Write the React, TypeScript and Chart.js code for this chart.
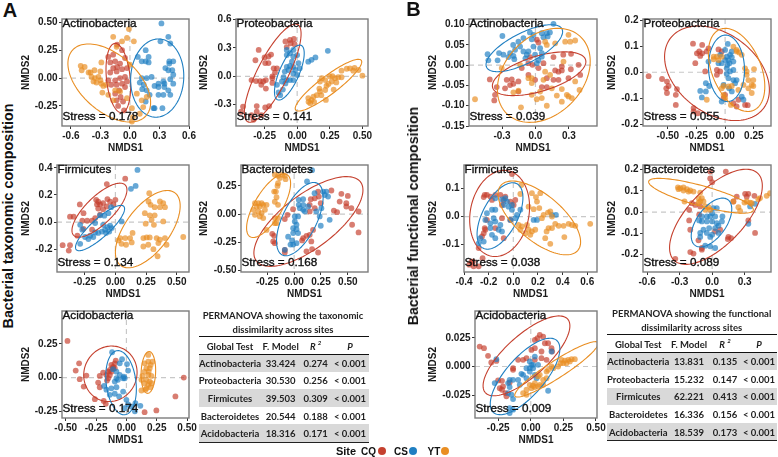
import React, { useEffect, useRef } from "react";
import { Chart, registerables } from "chart.js";

Chart.register(...registerables);

type P = number[];

const taxRows = [
  ["Actinobacteria", "33.424", "0.274", "< 0.001"],
  ["Proteobacteria", "30.530", "0.256", "< 0.001"],
  ["Firmicutes", "39.503", "0.309", "< 0.001"],
  ["Bacteroidetes", "20.544", "0.188", "< 0.001"],
  ["Acidobacteria", "18.316", "0.171", "< 0.001"],
];
const funRows = [
  ["Actinobacteria", "13.831", "0.135", "< 0.001"],
  ["Proteobacteria", "15.232", "0.147", "< 0.001"],
  ["Firmicutes", "62.221", "0.413", "< 0.001"],
  ["Bacteroidetes", "16.336", "0.156", "< 0.001"],
  ["Acidobacteria", "18.539", "0.173", "< 0.001"],
];

const a1CS: P[] = [[.32,.49],[.39,.37],[.31,.33],[.41,.31],[.16,.25],[.19,.19],[.08,.19],[.12,.15],[.16,.15],[.19,.14],[.4,.15],[.44,.15],[.4,.13],[.36,.09],[.39,.07],[.43,.07],[.44,.03],[.41,-.01],[.44,-.05],[.34,-.03],[.35,-.05],[.29,-.05],[.25,-.07],[.29,-.08],[.35,-.08],[.39,-.11],[.41,-.15],[.34,-.15],[.29,-.15],[.24,-.27],[.33,-.27],[.25,-.27],[.17,0],[.22,.01],[.12,0],[.1,-.04],[.14,-.06],[.125,-.1],[.17,-.11],[.2,-.15],[.16,-.21]];
const a1CQ: P[] = [[-.13,.3],[-.08,.25],[-.17,.21],[-.22,.19],[-.15,.15],[-.2,.14],[-.1,.13],[-.05,.18],[-.13,.1],[-.17,.09],[-.08,.08],[-.03,.09],[-.135,.06],[-.2,.05],[-.05,.01],[-.1,0],[-.15,-.02],[-.08,-.05],[-.03,-.03],[-.135,-.06],[-.19,-.06],[-.05,-.08],[-.11,-.11],[-.15,-.14],[-.095,-.17],[-.135,-.2],[-.07,-.21],[-.12,-.25],[-.06,-.29],[-.22,-.02]];
const a1YT: P[] = [[-.01,.44],[.04,.33],[-.17,.37],[-.03,.36],[-.08,.33],[-.135,.28],[-.5,.11],[-.46,.1],[-.49,.07],[-.42,.05],[-.4,.05],[-.36,.07],[-.3,.06],[-.29,.14],[-.39,.01],[-.355,0],[-.32,.01],[-.3,-.02],[-.34,-.04],[-.29,-.05],[-.37,-.03],[-.27,-.07],[-.24,-.06],[-.28,-.13],[-.22,-.15],[-.15,-.11],[-.17,-.2],[.02,-.39],[.02,-.27],[.03,-.35],[.12,-.2],[.17,-.17],[.135,-.26],[.1,-.32],[-.03,-.18],[-.1,-.12],[.07,-.14],[0,.12]];

const a2CQ: P[] = [[-.295,.28],[-.32,.17],[-.25,.2],[-.22,.21],[-.2,.23],[-.245,.14],[-.22,.14],[-.18,.085],[-.155,.085],[-.17,.04],[-.19,0],[-.19,-.07],[-.24,-.04],[-.26,-.055],[-.285,-.05],[-.35,-.04],[-.315,-.05],[-.275,-.09],[-.24,-.13],[-.09,.37],[-.055,.385],[-.025,.395],[-.05,.35],[-.02,.34],[-.08,.31],[-.415,-.32],[-.43,-.375],[-.31,-.315],[-.245,-.33],[-.215,-.315],[-.35,-.41],[-.31,-.375],[-.275,-.41],[-.335,-.46],[-.19,-.02]];
const a2CS: P[] = [[.235,.27],[.14,.2],[.11,.175],[.085,.155],[-.08,.28],[-.03,.28],[-.055,.245],[-.08,.225],[-.03,.21],[0,.225],[.01,.14],[-.055,.11],[-.03,.1],[-.08,.1],[-.095,.05],[-.066,.067],[.02,.085],[-.03,.03],[0,.015],[-.105,-.01],[-.08,-.04],[-.055,-.04],[-.117,-.055],[-.03,-.04],[-.09,-.075],[-.11,-.14],[-.13,-.2],[-.143,-.17],[-.155,-.09],[-.015,.067],[-.04,.155]];
const a2YT: P[] = [[.38,.08],[.405,.085],[.44,.09],[.47,.067],[.5,.007],[.34,.06],[.19,-.02],[.175,-.055],[.215,-.04],[.25,0],[.27,.003],[.29,-.02],[.315,-.01],[.34,-.01],[.265,-.055],[.3,-.065],[.24,-.08],[.28,-.14],[.22,-.25],[.175,-.16],[.185,-.2],[.15,-.2],[.125,-.215],[.085,-.23],[.1,-.285],[.13,-.27],[.087,-.27],[.215,-.145],[.225,-.1],[.17,-.13],[.43,.06],[.11,-.25]];

const a3CQ: P[] = [[.08,.32],[-.07,.28],[-.29,.13],[-.37,.04],[-.34,.04],[-.43,-.17],[-.37,-.17],[-.38,-.21],[-.31,-.1],[-.27,.01],[-.23,.01],[-.19,.01],[-.157,.164],[-.14,.15],[-.15,.13],[-.125,.13],[-.1,.14],[-.065,.17],[-.043,.15],[0,.164],[-.016,.13],[-.07,.115],[-.1,.095],[-.14,.1],[-.125,.054],[-.165,.03],[-.19,-.056],[-.26,-.05],[-.26,.066]];
const a3CS: P[] = [[.18,.385],[.165,.267],[.127,.245],[.05,.005],[-.035,.11],[-.057,.066],[-.09,.047],[-.125,.05],[-.165,-.007],[-.287,-.02],[-.27,-.056],[-.247,-.11],[-.22,-.125],[-.287,-.16],[-.165,-.076],[-.14,-.08],[-.11,-.07],[-.084,-.056],[-.065,-.037],[-.043,-.027],[-.076,-.08],[-.05,-.07],[-.18,-.11],[-.205,-.1],[-.1,-.02],[-.03,-.044]];
const a3YT: P[] = [[.276,.213],[.27,.152],[.363,.152],[.39,.14],[.287,.127],[.32,.11],[.363,.11],[.404,.11],[.24,.066],[.28,.05],[.32,.05],[.295,.017],[.247,-.012],[.314,-.02],[.39,.005],[.14,-.08],[.04,-.118],[.08,-.118],[.12,-.118],[.024,-.135],[.05,-.16],[.087,-.167],[.133,-.15],[.228,-.118],[.255,-.113],[.28,-.113],[.336,-.118],[.363,-.13],[.404,-.118],[.553,-.11],[.228,-.18],[.268,-.167],[.31,-.2],[.344,-.252],[.417,-.167],[.35,-.155]];

const a4YT: P[] = [[-.18,.35],[-.15,.34],[-.11,.35],[-.087,.34],[-.133,.32],[-.08,.31],[-.15,.274],[-.155,.25],[-.186,.2],[-.17,.2],[-.164,.15],[-.18,.11],[-.15,.083],[-.365,.097],[-.334,.097],[-.303,.097],[-.35,.068],[-.32,.068],[-.288,.083],[-.38,.038],[-.257,.083],[-.334,.024],[-.303,.009],[-.272,.038],[-.365,-.006],[-.32,-.02],[-.288,-.035],[-.18,-.035],[-.164,-.08],[-.18,-.08],[-.257,-.14],[-.15,-.035]];
const a4CS: P[] = [[.167,.39],[.12,.29],[.19,.186],[.27,.2],[.3,.2],[.316,.156],[.285,.17],[.043,.127],[.084,.133],[.043,.083],[.084,.083],[.053,.053],[.084,.038],[.13,.068],[.1,.024],[.006,-.02],[.037,-.02],[.006,-.065],[.022,-.094],[-.009,-.124],[.022,-.133],[-.009,-.168],[.037,-.168],[-.056,-.2],[-.019,-.233],[-.009,-.27],[-.034,-.27],[.022,-.257],[.331,-.05],[.248,-.103],[.238,-.02],[-.087,-.316],[.254,.053],[.207,.024]];
const a4CQ: P[] = [[.347,.21],[.44,.18],[.5,.162],[.424,.112],[.486,.097],[.486,.068],[.533,.053],[.6,.024],[.37,.032],[.4,.018],[.54,-.094],[.6,-.162],[.223,.2],[.23,.156],[.155,.133],[.192,.14],[.248,.097],[.192,.053],[.145,.083],[.145,.024],[-.01,.044],[-.062,-.006],[-.087,-.044],[-.204,-.174],[-.186,-.192],[-.195,-.242],[-.18,-.257],[-.087,-.316],[-.087,-.34],[.084,-.212],[.115,-.192],[.145,-.183],[.074,-.233],[.16,-.242],[.115,-.33],[.167,-.31],[.223,-.34],[.176,-.14]];

const a5CQ: P[] = [[-.486,.272],[-.39,.106],[-.418,.052],[-.385,-.012],[-.33,.015],[-.352,-.067],[-.26,-.16],[-.187,-.173],[-.17,-.195],[-.233,-.037],[-.22,-.072],[-.22,.012],[-.192,.037],[-.15,.044],[-.165,.02],[-.137,.02],[-.15,-.005],[-.124,.044],[-.11,.08],[-.096,.106],[-.088,.126],[-.124,.094],[-.16,-.022],[-.11,.07],[.473,0],[.404,-.14],[.247,-.244],[.15,-.257],[-.137,.057],[-.096,.07]];
const a5CS: P[] = [[-.118,.188],[-.036,.136],[.005,.1],[.014,.052],[-.055,.106],[-.11,.062],[-.082,.044],[-.055,.02],[-.022,.007],[-.014,-.005],[-.082,-.005],[-.096,-.03],[-.082,-.072],[-.184,-.062],[-.165,-.09],[-.124,-.08],[-.096,-.12],[-.027,-.104],[-.06,-.14],[0,-.165],[-.014,-.227],[.04,-.215],[.07,-.25],[.115,-.21],[.074,-.19],[.014,-.2],[-.027,-.005],[-.07,-.017],[-.137,-.128]];
const a5YT: P[] = [[.18,.168],[.18,.118],[.15,.106],[.2,.094],[.165,.07],[.192,.07],[.15,.044],[.184,.044],[.132,.012],[.165,-.017],[.124,-.017],[.192,-.03],[.15,-.042],[.18,-.054],[.206,-.042],[.124,-.096],[.165,-.08],[.198,-.072],[.157,-.09],[.206,.012],[.18,.02],[.214,.118]];

const b1CS: P[] = [[.162,.102],[-.297,.072],[-.05,.081],[-.018,.075],[.057,.079],[.102,.079],[.13,.081],[.11,.071],[.072,.069],[-.033,.064],[-.108,.067],[-.153,.058],[-.2,.05],[-.138,.046],[-.183,.038],[-.108,.034],[-.063,.034],[-.018,.046],[.042,.042],[.057,.03],[-.003,.026],[-.078,.026],[-.228,.03],[-.327,.03],[-.288,.026],[-.243,.02],[-.198,.023],[-.43,.027],[-.423,.012],[-.34,.012],[-.19,.015],[.027,.012],[.057,.021],[.012,.005],[-.09,.017]];
const b1CQ: P[] = [[.012,.063],[.027,.056],[-.048,.02],[.162,.02],[.32,.028],[.25,.026],[-.063,.005],[-.027,.001],[-.123,-.007],[.027,-.007],[.072,.005],[.237,-.003],[.177,-.013],[.207,-.016],[.237,-.013],[.318,-.01],[.387,.001],[.102,-.032],[.207,-.036],[.162,-.036],[.297,-.032],[.402,-.024],[-.41,-.035],[-.213,-.035],[-.258,-.036],[-.153,-.04],[-.228,-.049],[-.198,-.046],[-.273,-.057],[-.348,-.054],[-.37,-.087],[-.363,-.073],[-.153,-.065],[-.003,-.036],[-.063,-.024],[.057,-.054],[.102,-.054]];
const b1YT: P[] = [[-.543,-.084],[-.13,-.104],[.012,-.084],[.057,-.081],[.102,-.1],[.192,-.075],[.237,-.09],[.282,-.073],[.327,-.081],[.297,-.077],[.396,-.061],[-.033,-.073],[-.153,-.063],[.177,.054],[.267,.058],[.312,.058],[.357,.061],[.297,.075],[.102,.05],[.087,.058],[.252,.009],[-.033,-.032],[-.063,-.032],[.087,-.016],[.132,-.024],[.072,-.036],[.147,-.057],[.042,-.065],[-.303,-.007],[-.138,.001],[.237,-.059],[.357,-.04],[-.198,-.067],[-.033,-.044]];

const b2CQ: P[] = [[-.667,-.015],[-.55,-.026],[-.507,-.036],[-.493,-.053],[-.513,-.062],[-.507,-.08],[-.42,-.065],[-.43,-.087],[-.43,-.126],[-.28,.11],[-.2,.105],[-.246,.073],[-.226,.08],[-.2,.073],[-.217,.063],[-.16,.08],[-.26,.035],[-.145,.092],[-.058,.088],[-.03,.08],[-.174,.003],[-.072,.009],[-.043,.003],[-.072,-.01],[-.275,-.138],[-.275,-.151],[-.238,-.158],[0,-.087],[-.014,-.1],[.1,-.132],[.174,-.126],[.197,-.127],[.116,-.106],[.072,-.119]];
const b2CS: P[] = [[.023,.109],[0,.086],[-.043,.067],[.058,.08],[.043,.067],[.014,.06],[0,.047],[.029,.047],[.058,.058],[.072,.041],[-.03,.035],[-.058,.035],[-.145,.041],[.014,.015],[.043,.003],[.072,.009],[.014,-.006],[.072,-.03],[.1,-.03],[.029,-.023],[-.168,-.042],[-.139,-.053],[-.217,-.072],[-.168,-.074],[-.203,-.097],[-.03,-.113],[.058,-.074],[.035,-.062],[.16,-.106],[.145,-.094],[-.014,-.049],[.087,-.042],[.02,.028],[.038,.035]];
const b2YT: P[] = [[.072,.099],[.1,.086],[.122,.076],[.145,.067],[-.1,.06],[-.072,.06],[-.03,.06],[-.1,.05],[-.058,.047],[.174,.015],[.188,.003],[.252,.012],[.188,-.01],[.246,-.03],[.203,-.03],[.232,-.049],[.246,-.053],[.203,-.062],[.232,-.08],[.029,-.055],[-.03,-.062],[-.014,-.053],[.058,-.053],[-.014,-.087],[0,-.1],[.05,-.126],[-.16,-.106],[.116,-.068],[.16,-.049],[.1,.08]];

const b3CQ: P[] = [[-.011,.151],[-.24,.069],[-.214,.077],[-.186,.071],[-.146,.077],[-.105,.077],[-.232,.077],[-.065,.071],[-.078,.059],[-.024,.053],[.016,.059],[.003,.041],[-.092,.041],[-.173,.059],[-.214,-.012],[-.227,-.047],[-.24,-.059],[-.232,-.041],[-.254,-.071],[-.146,-.041],[-.078,-.077],[-.249,-.148],[-.327,-.16],[-.281,-.177],[-.322,-.177],[-.357,-.171],[-.34,-.16],[-.281,-.112],[-.092,-.006],[-.024,-.012]];
const b3CS: P[] = [[-.146,.065],[-.092,.061],[-.065,.065],[-.051,.053],[-.078,.041],[-.146,.024],[-.173,.024],[-.011,.024],[-.038,.035],[-.011,.041],[.057,.024],[.03,.006],[-.214,.012],[-.227,-.012],[-.159,-.006],[-.186,-.024],[-.146,-.018],[-.024,-.012],[.016,-.006],[.165,-.012],[.192,-.012],[.314,.006],[.346,.006],[-.186,-.041],[-.105,-.03],[-.119,-.047],[-.173,-.065],[-.146,-.077],[-.24,-.089],[-.268,-.077],[-.281,-.095],[-.092,-.053]];
const b3YT: P[] = [[.065,.112],[.057,.08],[.151,.083],[.219,.083],[.184,.069],[.192,.053],[.124,.035],[.165,.026],[.211,.03],[.246,.006],[.281,.014],[.3,.018],[.232,-.006],[.314,0],[.07,-.035],[.043,-.03],[.057,-.047],[.097,-.059],[.124,-.047],[.151,-.053],[.178,-.047],[.138,-.065],[.286,-.041],[.314,-.041],[.27,-.053],[.259,-.077],[.3,-.097],[.34,-.026],[.368,-.033],[.408,-.033],[.449,-.026],[.476,-.03],[.503,-.033],[.414,-.073],[.624,-.026],[.111,-.03]];

const b4CQ: P[] = [[-.018,.191],[.126,.191],[-.018,.159],[0,.141],[.304,.086],[.334,.086],[.319,.073],[.39,.077],[.227,.073],[.196,.05],[-.187,.042],[-.156,.034],[-.11,.027],[-.212,.011],[-.12,-.012],[-.212,-.039],[-.202,-.083],[.334,-.039],[.396,-.098],[.175,-.122],[.144,-.127],[.15,-.117],[-.126,-.133],[-.095,-.177],[-.095,-.169],[-.202,-.188],[-.172,-.195],[-.34,-.22],[.074,-.083],[.028,-.091]];
const b4CS: P[] = [[.043,.019],[.012,.019],[0,-.005],[-.018,-.02],[-.095,-.02],[.028,-.02],[-.049,-.044],[0,-.044],[-.095,-.044],[.043,-.052],[.09,-.044],[-.028,-.075],[.028,-.075],[-.08,-.083],[-.11,-.098],[-.049,-.098],[0,-.106],[.058,-.098],[-.018,-.117],[-.11,-.117],[-.064,-.158],[-.018,-.161],[.028,-.169],[.334,-.055],[.35,.027],[.396,.039],[-.12,-.039],[.058,-.064],[-.049,-.02],[.095,-.02]];
const b4YT: P[] = [[-.316,.117],[-.294,.113],[-.264,.116],[-.233,.108],[-.202,.102],[-.31,.108],[-.264,.102],[-.218,.097],[-.172,.097],[-.11,.092],[-.126,.066],[-.095,.066],[-.11,.05],[-.08,.05],[-.255,.05],[-.064,.027],[-.034,.023],[-.018,.011],[-.064,.011],[.534,.089],[.503,.077],[.442,.066],[.426,.061],[.319,.05],[.35,.045],[.298,.045],[.365,.042],[.242,.023],[.258,.006],[.196,.05],[-.126,.045]];

const b5CQ: P[] = [[-.392,.0174],[-.359,.016],[-.328,.0093],[-.303,.0035],[-.264,.0049],[-.251,-.0122],[-.221,-.0125],[-.213,-.0174],[-.238,-.0189],[-.221,-.0203],[-.187,-.0261],[-.195,-.0232],[-.162,-.0139],[-.136,-.0015],[-.136,-.0029],[-.097,.0058],[-.059,.0058],[-.033,.0073],[.031,.0058],[.082,.0073],[.121,.0058],[.005,.0145],[.031,.0232],[.051,.0247],[.069,.0276],[.095,.0261],[.133,.0203],[.108,.0203],[.159,.016],[.164,.0131],[.082,.0131],[.031,.016]];
const b5CS: P[] = [[-.264,.0064],[-.277,-.0145],[-.162,-.0116],[-.136,-.0116],[-.174,-.0145],[-.162,-.018],[-.149,-.0247],[-.174,-.0232],[-.162,-.0363],[-.162,-.0407],[-.136,-.0377],[-.136,-.0285],[-.072,-.0064],[-.097,-.0116],[-.059,-.0073],[-.008,.0044],[.005,.0015],[-.033,-.0015],[.018,-.0015],[-.008,-.0044],[.056,.0015],[.031,-.0073],[.044,-.0102],[.133,-.0212],[.159,.0131],[.031,.0087],[-.033,-.0102],[-.085,-.016],[.018,.0015],[-.008,-.0015]];
const b5YT: P[] = [[-.033,-.0247],[-.059,-.0232],[.005,-.0189],[.018,-.0168],[.031,-.018],[.069,-.016],[.095,-.016],[.056,-.0087],[.069,-.0073],[.121,-.0044],[.133,-.0029],[.159,0],[.21,0],[.228,.0029],[.236,.0058],[.262,.0052],[.287,.0058],[.313,.0064],[.338,.0064],[.249,.0029],[.274,.0029],[.3,.0044],[.095,-.0116],[.121,-.0102],[.031,-.0145],[-.008,-.016],[-.033,-.0203],[.172,-.0015],[.056,-.0174]];

const RED = "#c5402e";
const BLUE = "#1f7fc2";
const ORANGE = "#e98e22";
const SANS = '"Liberation Sans", Arial, sans-serif';
const TABLE_FONT = 'Lato, "Noto Sans", sans-serif';
const TABLE_SIZE = 9.5;

// name, stress, plot box [left, top, right, bottom], y-title x, x range, y range, x ticks, y ticks, decimals,
// ellipses as [cx, cy, rx, ry, rho] for CQ, CS, YT
const panels: any[] = [
  { name: "Actinobacteria", stress: "0.178", box: [62, 19, 189, 126], tx: 26, xr: [-.69, .6], yr: [-.43, .53], xt: [-.6,-.3,0,.3,.6], yt: [-.25,0,.25,.5], xd: 1, yd: 2, cq: a1CQ, cs: a1CS, yt2: a1YT, e: [[-.118,0,.125,.311,-.25],[.277,0,.27,.351,.05],[-.21,-.044,.42,.35,-.5]] },
  { name: "Proteobacteria", stress: "0.141", box: [236, 19, 368, 126], tx: 204, xr: [-.469, .543], yr: [-.526, .607], xt: [-.25,0,.25,.5], yt: [-.3,0,.3,.6], xd: 2, yd: 1, cq: a2CQ, cs: a2CS, yt2: a2YT, e: [[-.1875,.034,.2175,.52,.8],[-.06,.04,.114,.291,.7],[.24,-.094,.255,.274,.9]] },
  { name: "Firmicutes", stress: "0.134", box: [57, 165, 189, 272], tx: 26, xr: [-.476, .6], yr: [-.368, .421], xt: [-.25,0,.25,.5], yt: [-.2,0,.2,.4], xd: 2, yd: 1, cq: a3CQ, cs: a3CS, yt2: a3YT, e: [[-.13,.088,.224,.199,.75],[-.125,-.044,.2,.167,.85],[.264,-.052,.264,.285,.6]] },
  { name: "Bacteroidetes", stress: "0.168", box: [241, 165, 368, 272], tx: 204, xr: [-.495, .688], yr: [-.513, .436], xt: [-.25,0,.25,.5], yt: [-.5,-.25,0,.25], xd: 2, yd: 2, cq: a4CQ, cs: a4CS, yt2: a4YT, e: [[.133,-.065,.508,.398,.7],[.053,-.044,.217,.325,.6],[-.238,.075,.205,.282,.7]] },
  { name: "Acidobacteria", stress: "0.174", box: [62, 311, 189, 418], tx: 26, xr: [-.531, .516], yr: [-.3, .494], xt: [-.5,-.25,0,.25,.5], yt: [-.25,0,.25], xd: 2, yd: 2, cq: a5CQ, cs: a5CS, yt2: a5YT, e: [[-.132,.028,.22,.206,.05],[-.044,-.038,.126,.238,-.2],[.181,.038,.06,.155,.1]] },
  { name: "Actinobacteria", stress: "0.039", box: [469, 19, 597, 126], tx: 433, xr: [-.597, .553], yr: [-.15, .114], xt: [-.3,0,.3], yt: [-.15,-.1,-.05,0,.05,.1], xd: 1, yd: 2, cq: b1CQ, cs: b1CS, yt2: b1YT, e: [[.033,-.021,.42,.054,.55],[-.1,.042,.344,.058,.7],[.075,-.025,.417,.116,.3]] },
  { name: "Proteobacteria", stress: "0.055", box: [643, 19, 771, 126], tx: 612, xr: [-.716, .4], yr: [-.207, .205], xt: [-.5,-.25,0,.25], yt: [-.2,-.1,0,.1,.2], xd: 2, yd: 1, cq: b2CQ, cs: b2CS, yt2: b2YT, e: [[-.071,-.004,.457,.182,-.35],[.012,.015,.157,.128,-.05],[.1,.009,.246,.16,-.4]] },
  { name: "Firmicutes", stress: "0.038", box: [464, 165, 597, 272], tx: 433, xr: [-.4, .679], yr: [-.197, .183], xt: [-.4,-.2,0,.2,.4,.6], yt: [-.1,0,.1], xd: 1, yd: 1, cq: b3CQ, cs: b3CS, yt2: b3YT, e: [[-.111,.011,.243,.153,.15],[-.108,.002,.186,.118,.55],[.211,-.005,.335,.131,-.65]] },
  { name: "Bacteroidetes", stress: "0.089", box: [643, 165, 771, 272], tx: 612, xr: [-.638, .543], yr: [-.282, .222], xt: [-.6,-.3,0,.3], yt: [-.2,-.1,0,.1,.2], xd: 1, yd: 1, cq: b4CQ, cs: b4CS, yt2: b4YT, e: [[.035,-.022,.428,.224,.65],[-.006,-.049,.187,.115,.55],[-.103,.077,.483,.082,-.8]] },
  { name: "Acidobacteria", stress: "0.009", box: [475, 311, 597, 418], tx: 433, xr: [-.428, .508], yr: [-.045, .0485], xt: [-.25,0,.25,.5], yt: [-.025,0,.025], xd: 2, yd: 3, cq: b5CQ, cs: b5CS, yt2: b5YT, e: [[-.033,.0093,.333,.0349,.75],[-.044,-.0087,.267,.0334,.72],[.197,-.0025,.32,.0242,.93]] },
];

const rgba = (hex: string, a: number) => {
  const n = parseInt(hex.slice(1), 16);
  return `rgba(${n >> 16},${(n >> 8) & 255},${n & 255},${a})`;
};

function Panel({ p }: { p: any }) {
  const ref = useRef<HTMLCanvasElement>(null);
  const [l, t, r, b] = p.box;
  const cl = p.tx - 6;
  const ct = t - 8;
  const cr = r + 12;
  const cb = b + 28;

  useEffect(() => {
    const decor = {
      id: "decor",
      beforeDatasetsDraw(chart: any) {
        const { ctx, chartArea: a, scales } = chart;
        ctx.save();
        ctx.strokeStyle = "#c8c8c8";
        ctx.lineWidth = 1.2;
        ctx.setLineDash([5, 4]);
        const x0 = scales.x.getPixelForValue(0);
        const y0 = scales.y.getPixelForValue(0);
        ctx.beginPath();
        ctx.moveTo(a.left, y0);
        ctx.lineTo(a.right, y0);
        ctx.moveTo(x0, a.top);
        ctx.lineTo(x0, a.bottom);
        ctx.stroke();
        ctx.restore();
      },
      afterDatasetsDraw(chart: any) {
        const { ctx, chartArea: a, scales } = chart;
        ctx.save();
        ctx.beginPath();
        ctx.rect(a.left, a.top, a.right - a.left, a.bottom - a.top);
        ctx.clip();
        [RED, BLUE, ORANGE].forEach((c, i) => {
          const [cx, cy, rx, ry, rho] = p.e[i];
          ctx.strokeStyle = c;
          ctx.lineWidth = 1.1;
          ctx.beginPath();
          for (let k = 0; k <= 120; k++) {
            const s = (k / 120) * Math.PI * 2;
            const X = cx + rx * Math.cos(s);
            const Y = cy + ry * (rho * Math.cos(s) + Math.sqrt(1 - rho * rho) * Math.sin(s));
            const px = scales.x.getPixelForValue(X);
            const py = scales.y.getPixelForValue(Y);
            if (k === 0) ctx.moveTo(px, py);
            else ctx.lineTo(px, py);
          }
          ctx.closePath();
          ctx.stroke();
        });
        ctx.restore();
        ctx.save();
        ctx.strokeStyle = "#7c7c7c";
        ctx.lineWidth = 1.4;
        ctx.strokeRect(a.left, a.top, a.right - a.left, a.bottom - a.top);
        ctx.fillStyle = "#111";
        ctx.strokeStyle = "#111";
        ctx.lineWidth = 0.35;
        ctx.font = `11.7px ${SANS}`;
        ctx.textBaseline = "middle";
        ctx.textAlign = "left";
        const stress = `Stress = ${p.stress}`;
        ctx.fillText(p.name, a.left + 0.5, a.top + 4.5);
        ctx.strokeText(p.name, a.left + 0.5, a.top + 4.5);
        ctx.fillText(stress, a.left + 0.5, a.bottom - 9);
        ctx.strokeText(stress, a.left + 0.5, a.bottom - 9);
        ctx.restore();
      },
    };
    const fixedTicks = (vals: number[]) => (scale: any) => {
      scale.ticks = vals.map((value) => ({ value }));
    };
    const axis = (title: string, range: number[], vals: number[], dec: number, fit: (s: any) => void) => ({
      type: "linear",
      min: range[0],
      max: range[1],
      afterBuildTicks: fixedTicks(vals),
      afterFit: fit,
      title: { display: true, text: title, color: "#1a1a1a", font: { family: SANS, size: 10, weight: "bold" }, padding: 0 },
      grid: { display: true, drawOnChartArea: false, drawTicks: true, tickLength: 3, tickColor: "#333" },
      border: { display: false },
      ticks: {
        autoSkip: false,
        maxRotation: 0,
        minRotation: 0,
        padding: 1.5,
        color: "#1a1a1a",
        font: { family: SANS, size: 10, weight: "bold" },
        callback: (v: any) => Number(v).toFixed(dec),
      },
    });
    const toXY = (arr: P[]) => arr.map(([x, y]) => ({ x, y }));
    const ds = (label: string, arr: P[], c: string) => ({
      label,
      data: toXY(arr),
      backgroundColor: rgba(c, 0.68),
      borderWidth: 0,
      pointRadius: 2.9,
    });
    const chart = new Chart(ref.current as any, {
      type: "scatter",
      data: { datasets: [ds("YT", p.yt2, ORANGE), ds("CS", p.cs, BLUE), ds("CQ", p.cq, RED)] },
      options: {
        responsive: false,
        animation: false,
        layout: { autoPadding: false, padding: { top: t - ct, right: cr - r, left: 0, bottom: 0 } },
        plugins: { legend: { display: false }, tooltip: { enabled: false }, title: { display: false } },
        scales: {
          x: axis("NMDS1", p.xr, p.xt, p.xd, (s) => { s.height = cb - b; }),
          y: axis("NMDS2", p.yr, p.yt, p.yd, (s) => { s.width = l - cl; }),
        },
      } as any,
      plugins: [decor as any],
    });
    return () => chart.destroy();
  }, []);

  return (
    <canvas
      ref={ref}
      width={cr - cl}
      height={cb - ct}
      style={{ position: "absolute", left: cl, top: ct, width: cr - cl, height: cb - ct }}
    />
  );
}

const abs = (x: number, y: number, extra: any = {}) => ({
  position: "absolute",
  left: x,
  top: y,
  transform: "translate(-50%,-50%)",
  whiteSpace: "nowrap",
  ...extra,
});

function Table({ rows, title, cx, x0, x1, topLine, cols }: any) {
  const rowH = 17.6;
  const firstRow = topLine + 18;
  const f = `bold ${TABLE_SIZE}px ${TABLE_FONT}`;
  return (
    <>
      <div style={abs(cx, topLine - 21, { font: f, color: "#222" })}>{title[0]}</div>
      <div style={abs(cx, topLine - 7.5, { font: f, color: "#222" })}>{title[1]}</div>
      {rows.map((_: any, i: number) =>
        i % 2 === 0 ? (
          <div key={i} style={{ position: "absolute", left: x0, width: x1 - x0, top: firstRow + i * rowH, height: rowH, background: "#d9d9d9" }} />
        ) : null
      )}
      <div style={{ position: "absolute", left: x0, width: x1 - x0, top: topLine - 0.5, height: 1.5, background: "#111" }} />
      <div style={{ position: "absolute", left: x0, width: x1 - x0, top: firstRow - 0.5, height: 1.5, background: "#111" }} />
      <div style={{ position: "absolute", left: x0, width: x1 - x0, top: firstRow + 5 * rowH - 0.5, height: 1.5, background: "#222" }} />
      <div style={abs(cols[0], topLine + 9.5, { font: f, color: "#222" })}>Global Test</div>
      <div style={abs(cols[1], topLine + 9.5, { font: f, color: "#222" })}>F. Model</div>
      <div style={abs(cols[2], topLine + 9.5, { font: `italic ${f}`, color: "#222" })}>
        R <sup style={{ fontSize: 6, lineHeight: 0 }}>2</sup>
      </div>
      <div style={abs(cols[3], topLine + 9.5, { font: `italic ${f}`, color: "#222" })}>P</div>
      {rows.map((row: string[], i: number) =>
        row.map((cell, j) => (
          <div key={`${i}-${j}`} style={abs(cols[j], firstRow + (i + 0.5) * rowH, { font: f, color: "#222" })}>
            {cell}
          </div>
        ))
      )}
    </>
  );
}

function Dot({ x, c }: { x: number; c: string }) {
  return <div style={{ position: "absolute", left: x - 4, top: 447, width: 8, height: 8, borderRadius: "50%", background: c }} />;
}

export default function App() {
  const bold = (size: number) => ({ font: `bold ${size}px ${SANS}`, color: "#111" });
  return (
    <div style={{ position: "fixed", left: 0, top: 0, width: 778, height: 457, overflow: "hidden", background: "#fff", filter: "blur(0.3px)" }}>
      {panels.map((p, i) => (
        <Panel key={i} p={p} />
      ))}
      <div style={abs(10, 10, bold(20))}>A</div>
      <div style={abs(413.5, 9, bold(20))}>B</div>
      <div style={abs(7.5, 216, { ...bold(14.3), transform: "translate(-50%,-50%) rotate(-90deg)" })}>Bacterial taxonomic composition</div>
      <div style={abs(413, 216, { ...bold(14.1), transform: "translate(-50%,-50%) rotate(-90deg)" })}>Bacterial functional composition</div>
      <Table
        rows={taxRows}
        title={["PERMANOVA showing the taxonomic", "dissimilarity across sites"]}
        cx={283}
        x0={199}
        x1={369}
        topLine={336}
        cols={[230, 280.7, 315.7, 350]}
      />
      <Table
        rows={funRows}
        title={["PERMANOVA showing the functional", "dissimilarity across sites"]}
        cx={691.7}
        x0={607.3}
        x1={777}
        topLine={334.3}
        cols={[638.3, 689, 725, 759]}
      />
      <div style={abs(346, 451, bold(11))}>Site</div>
      <div style={abs(368.5, 451, bold(10))}>CQ</div>
      <Dot x={382} c={RED} />
      <div style={abs(401, 451, bold(10))}>CS</div>
      <Dot x={413.3} c={BLUE} />
      <div style={abs(434, 451, bold(10))}>YT</div>
      <Dot x={445.3} c={ORANGE} />
    </div>
  );
}
